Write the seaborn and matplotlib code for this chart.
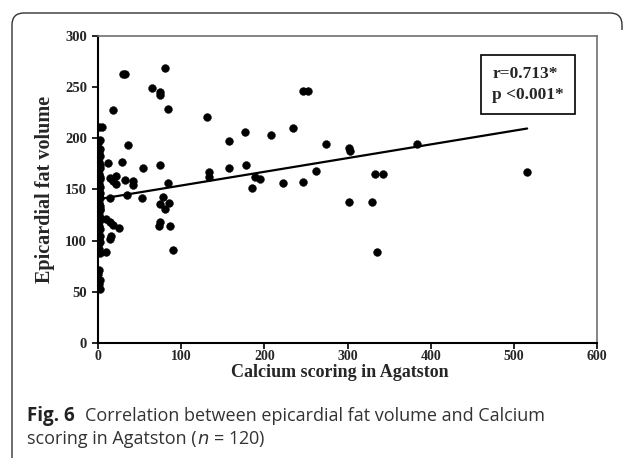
import matplotlib
matplotlib.use("Agg")
import matplotlib.pyplot as plt
import seaborn as sns
import pandas as pd
from matplotlib.path import Path
from matplotlib.patches import PathPatch

# ---- data ----
col_x = [1, 2, 0, 3, 1, 2, 0, 1, 3, 2, 0, 1, 2, 3, 0, 1, 2, 0, 3, 1, 2, 0, 1, 3,
         2, 0, 1, 2, 3, 0, 1, 2, 0, 3, 1, 2, 0, 1, 2, 1, 0, 2, 1, 0, 2, 1, 3]
col_y = [211, 198, 195, 190, 186, 183, 180, 177, 174, 171, 168, 165, 162, 160,
         157, 155, 152, 150, 147, 145, 142, 140, 137, 134, 131, 128, 125, 122,
         120, 117, 114, 111, 108, 105, 102, 99, 96, 92, 88, 71, 67, 62, 58, 55,
         53, 150, 130]
near_x = [5, 18, 30, 33, 65, 74, 74, 81, 84, 36, 29, 12, 54, 74, 14, 18, 22, 22,
          33, 42, 42, 84, 35, 53, 14, 75, 78, 85, 80, 14, 18, 25, 16, 14, 74, 73,
          86, 90, 10, 10]
near_y = [211, 228, 263, 263, 249, 245, 242, 269, 229, 193, 177, 176, 171, 174,
          161, 158, 163, 155, 159, 158, 154, 156, 145, 142, 142, 136, 143, 137,
          131, 118, 115, 112, 105, 102, 118, 114, 114, 91, 89, 121]
far_x = [131, 133, 133, 157, 157, 177, 178, 189, 195, 185, 208, 223, 234, 246,
         253, 247, 262, 274, 302, 303, 302, 329, 333, 343, 335, 383, 516]
far_y = [221, 167, 162, 197, 171, 206, 174, 162, 160, 151, 203, 156, 210, 246,
         246, 157, 168, 194, 191, 188, 138, 138, 165, 165, 89, 194, 167]
fit_x = [0, 516]
fit_y = [140.5, 209.6]
x_ticks = [0, 100, 200, 300, 400, 500, 600]
y_ticks = [0, 50, 100, 150, 200, 250, 300]
stats_text = "r=0.713*\np <0.001*"

df = pd.DataFrame({"calcium": col_x + near_x + far_x,
                   "efv": col_y + near_y + far_y})
fit = pd.DataFrame({"calcium": fit_x, "efv": fit_y})

sns.set_theme(style="white")
plt.rcParams["font.family"] = ["Liberation Serif", "DejaVu Serif"]

W, H = 628, 461
fig = plt.figure(figsize=(W / 100, H / 100), dpi=100)
ax = fig.add_axes([98 / W, 1 - 343 / H, 499 / W, 307 / H])

sns.scatterplot(data=df, x="calcium", y="efv", ax=ax, color="black",
                s=32, edgecolor="black", linewidth=0.3, zorder=3)
sns.lineplot(data=fit, x="calcium", y="efv", ax=ax, color="black",
             linewidth=1.6, zorder=4)

ax.set_xlim(0, 600)
ax.set_ylim(0, 300)
ax.set_xticks(x_ticks)
ax.set_yticks(y_ticks)
ax.set_xticklabels([str(t) for t in x_ticks], fontweight="bold", fontsize=10)
ax.set_yticklabels([str(t) for t in y_ticks], fontweight="bold", fontsize=10.5)
ax.tick_params(axis="both", direction="out", length=4, width=1.2,
               color="black", bottom=True, left=True)
ax.tick_params(axis="x", pad=1)
ax.tick_params(axis="y", pad=4)

for s in ["left", "bottom"]:
    ax.spines[s].set_color("black")
    ax.spines[s].set_linewidth(1.5)
for s in ["top", "right"]:
    ax.spines[s].set_color("#707070")
    ax.spines[s].set_linewidth(1.2)

ax.set_xlabel("Calcium scoring in Agatston", fontweight="bold", fontsize=13,
              va="center")
ax.set_ylabel("Epicardial fat volume", fontweight="bold", fontsize=14.5,
              va="center")
ax.xaxis.set_label_coords(0.485, -0.095)
ax.yaxis.set_label_coords(-0.106, 0.5)

ax.text(0.79, 0.842, stats_text, transform=ax.transAxes, fontsize=12.5,
        fontweight="bold", va="center", ha="left", linespacing=1.45,
        bbox=dict(boxstyle="square,pad=0.65", facecolor="white",
                  edgecolor="black", linewidth=1.2))

# figure border (rounded top corners)
def fx(px):
    return px / W

def fy(py):
    return 1 - py / H

r = 12
verts = [(fx(12), fy(458)), (fx(12), fy(13 + r)),
         (fx(12), fy(13)), (fx(12 + r), fy(13)),
         (fx(622 - r), fy(13)),
         (fx(622), fy(13)), (fx(622), fy(13 + r)),
         (fx(622), fy(30))]
codes = [Path.MOVETO, Path.LINETO, Path.CURVE3, Path.CURVE3, Path.LINETO,
         Path.CURVE3, Path.CURVE3, Path.LINETO]
fig.patches.append(PathPatch(Path(verts, codes), transform=fig.transFigure,
                             fill=False, edgecolor="#333333", linewidth=1.0))

# caption
cap_font = ["Open Sans", "DejaVu Sans"]
cap_size = 13
t1 = fig.text(fx(27), fy(421), "Fig. 6", fontsize=cap_size + 0.5,
              fontweight="bold", family=cap_font, color="#222222",
              va="baseline")
fig.canvas.draw()
bb = t1.get_window_extent()
fig.text(bb.x1 / W + fx(10), fy(421),
         "Correlation between epicardial fat volume and Calcium",
         fontsize=cap_size, family=cap_font, color="#333333", va="baseline")
t3 = fig.text(fx(27), fy(444), "scoring in Agatston (", fontsize=cap_size,
              family=cap_font, color="#333333", va="baseline")
fig.canvas.draw()
bb3 = t3.get_window_extent()
fig.text(bb3.x1 / W, fy(444), "$\\it{n}$ = 120)", fontsize=cap_size,
         family=cap_font, color="#333333", va="baseline")

fig.savefig("out.png", dpi=100)
